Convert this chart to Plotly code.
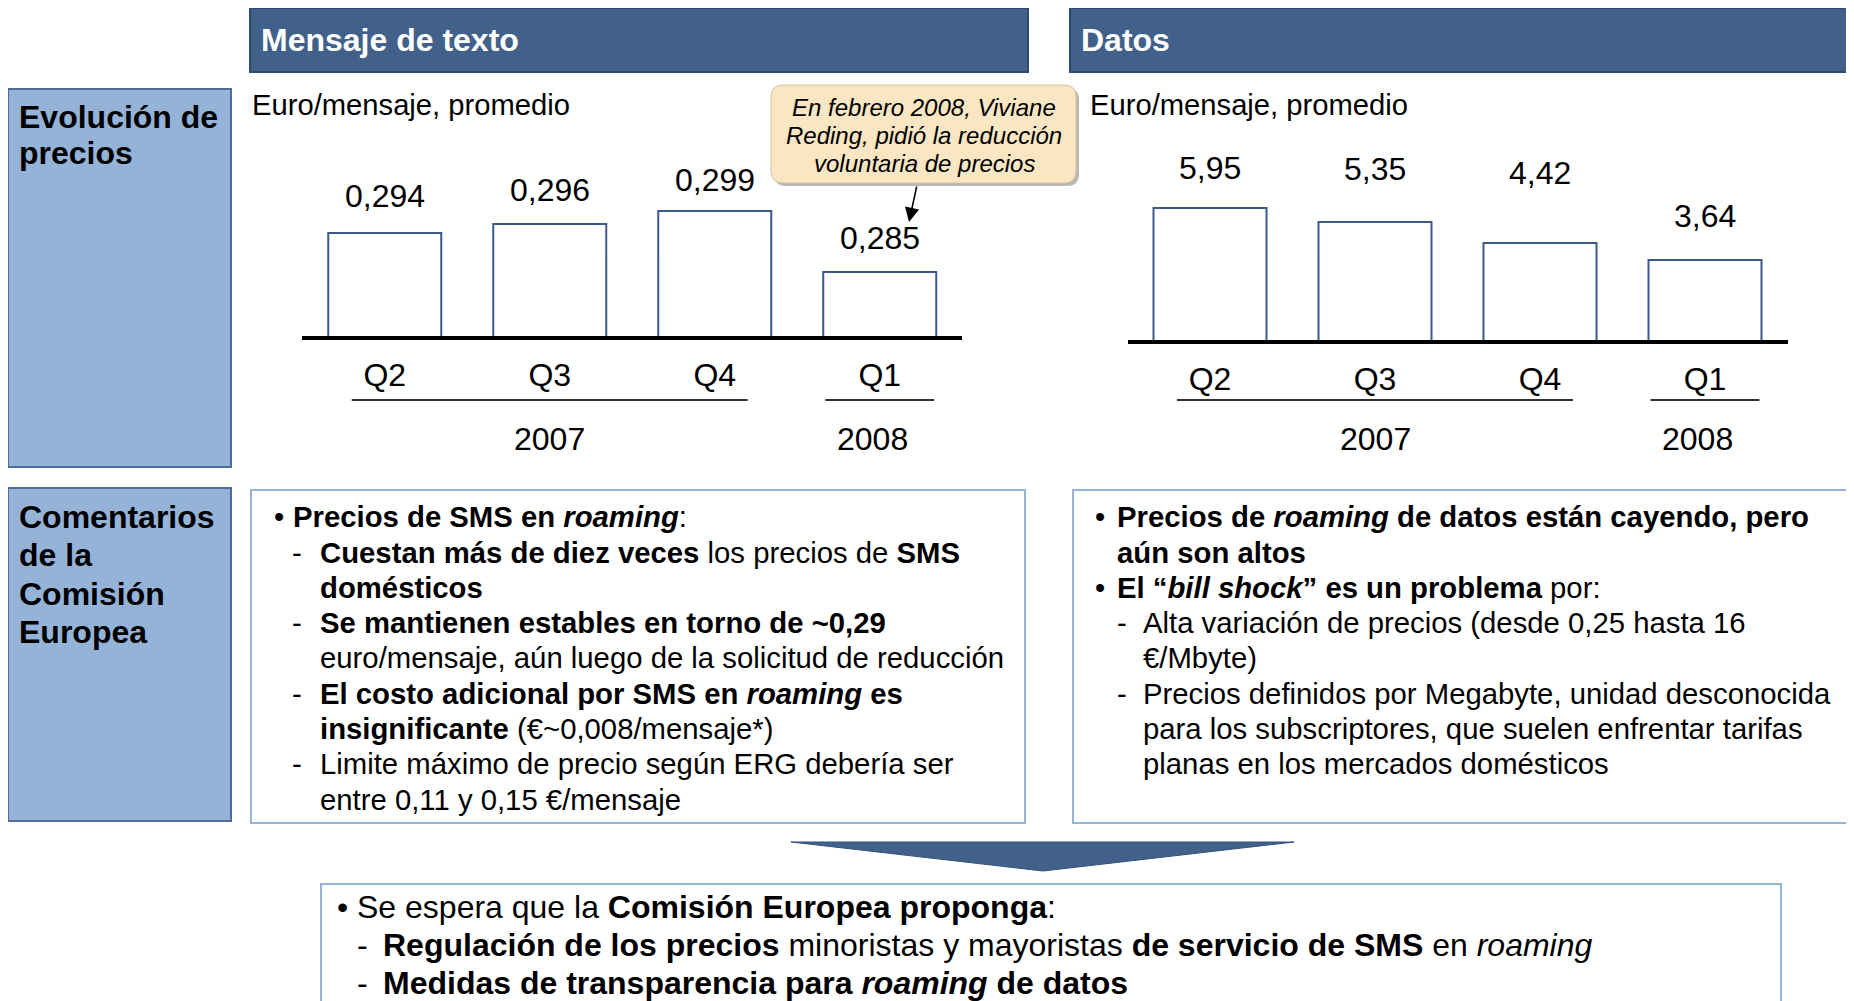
import plotly.graph_objects as go

# Datos del gráfico
trimestres = ["Q2", "Q3", "Q4", "Q1"]
anios = ["2007", "2007", "2007", "2008"]
precio_sms = [0.294, 0.296, 0.299, 0.285]
precio_datos = [5.95, 5.35, 4.42, 3.64]

W, H = 1854, 1001
OFF = 8  # margen del <body> de la página
FUENTE = "Liberation Sans, Arial, sans-serif"
AZUL_OSC = "#41618A"
AZUL_CLARO = "#95B3D7"
AZUL_BORDE = "#4E6E9A"
AZUL_BARRA = "#3B5A89"


def X(x):
    return (x - OFF) / W


def Y(y):
    return 1 - (y - OFF) / H


shapes = []
anns = []


def nota(x, base, texto, size=29.3, anchor="left", color="black"):
    # base = línea base del texto en píxeles
    xx = x - 2 if anchor == "left" else x
    anns.append(dict(
        x=X(xx), y=Y(base - 0.35 * size), xref="paper", yref="paper",
        text=texto, showarrow=False, xanchor=anchor, yanchor="middle",
        font=dict(size=size, color=color, family=FUENTE),
    ))


def caja(x0, y0, x1, y1, fill, line, width=2):
    shapes.append(dict(type="rect", xref="paper", yref="paper",
                       x0=X(x0), y0=Y(y1), x1=X(x1), y1=Y(y0),
                       fillcolor=fill, line=dict(color=line, width=width),
                       layer="below"))


def caja_redonda(x0, y0, x1, y1, r, fill, line, width=1):
    p = (f"M {X(x0 + r)},{Y(y0)} L {X(x1 - r)},{Y(y0)} Q {X(x1)},{Y(y0)} {X(x1)},{Y(y0 + r)} "
         f"L {X(x1)},{Y(y1 - r)} Q {X(x1)},{Y(y1)} {X(x1 - r)},{Y(y1)} "
         f"L {X(x0 + r)},{Y(y1)} Q {X(x0)},{Y(y1)} {X(x0)},{Y(y1 - r)} "
         f"L {X(x0)},{Y(y0 + r)} Q {X(x0)},{Y(y0)} {X(x0 + r)},{Y(y0)} Z")
    shapes.append(dict(type="path", xref="paper", yref="paper", path=p,
                       fillcolor=fill, line=dict(color=line, width=width), layer="above"))


fig = go.Figure()

# Barras: mensajes de texto (eje quebrado)
fig.add_trace(go.Bar(
    x=trimestres, y=precio_sms, width=0.68,
    marker=dict(color="white", line=dict(color=AZUL_BARRA, width=2)),
    xaxis="x", yaxis="y", hoverinfo="skip",
))
# Barras: datos
fig.add_trace(go.Bar(
    x=trimestres, y=precio_datos, width=0.68,
    marker=dict(color="white", line=dict(color=AZUL_BARRA, width=2)),
    xaxis="x2", yaxis="y2", hoverinfo="skip",
))

# Etiquetas de valor (separación sobre la barra, en px)
sep_sms = [25, 23, 19, 23]
sep_datos = [29, 42, 59, 33]
for i, v in enumerate(precio_sms):
    anns.append(dict(x=trimestres[i], y=v, xref="x", yref="y", showarrow=False,
                     text=f"{v:.3f}".replace(".", ","), yanchor="middle",
                     yshift=sep_sms[i] + 0.35 * 32,
                     font=dict(size=32, color="black", family=FUENTE)))
for i, v in enumerate(precio_datos):
    anns.append(dict(x=trimestres[i], y=v, xref="x2", yref="y2", showarrow=False,
                     text=f"{v:.2f}".replace(".", ","), yanchor="middle",
                     yshift=sep_datos[i] + 0.35 * 32,
                     font=dict(size=32, color="black", family=FUENTE)))

# Años y líneas de agrupación bajo los trimestres
for xr in ["x", "x2"]:
    for anio in dict.fromkeys(anios):
        idx = [i for i, a in enumerate(anios) if a == anio]
        ext = 0.2 if len(idx) > 1 else 0.33
        ajuste = 0 if len(idx) > 1 else -0.045
        shapes.append(dict(type="line", xref=xr, yref="paper",
                           x0=idx[0] - ext, x1=idx[-1] + ext, y0=Y(400), y1=Y(400),
                           line=dict(color="#333333", width=2)))
        anns.append(dict(x=sum(idx) / len(idx) + ajuste, y=Y(450 - 0.35 * 32), xref=xr,
                         yref="paper", text=anio, showarrow=False, yanchor="middle",
                         font=dict(size=32, color="black", family=FUENTE)))

# Encabezados
caja(250, 8, 1028, 72, AZUL_OSC, "#2E4A6E", 2)
caja(1070, 8, 1847, 72, AZUL_OSC, "#2E4A6E", 2)
nota(261, 51, "<b>Mensaje de texto</b>", 32, color="white")
nota(1081, 51, "<b>Datos</b>", 32, color="white")

# Rótulos de la izquierda
caja(8, 89, 231, 467, AZUL_CLARO, AZUL_BORDE, 2)
caja(8, 488, 231, 821, AZUL_CLARO, AZUL_BORDE, 2)
nota(19, 128, "<b>Evolución de</b>", 32)
nota(19, 164, "<b>precios</b>", 32)
for k, t in enumerate(["Comentarios", "de la", "Comisión", "Europea"]):
    nota(19, 528 + 38.5 * k, f"<b>{t}</b>", 32)

nota(252, 115, "Euro/mensaje, promedio", 29.2)
nota(1090, 115, "Euro/mensaje, promedio", 29.2)

# Nota de Viviane Reding
caja_redonda(774, 88, 1079, 186, 12, "rgba(0,0,0,0.28)", "rgba(0,0,0,0)", 0)
caja_redonda(771, 85, 1076, 183, 12, "#FBE6C3", "#D8C29C", 1)
for base, t in zip([116, 144, 172], ["En febrero 2008, Viviane", "Reding, pidió la reducción",
                                     "voluntaria de precios"]):
    nota(924, base, f"<i>{t}</i>", 24, anchor="center")
anns.append(dict(x=X(909), y=Y(222), xref="paper", yref="paper", ax=8, ay=-37,
                 axref="pixel", ayref="pixel", showarrow=True, arrowhead=2, arrowsize=1.8,
                 arrowwidth=1.6, arrowcolor="black", text=""))

# Cajas de comentarios
caja(251, 490, 1025, 823, "white", AZUL_CLARO, 2)
caja(1073, 490, 1847, 823, "white", AZUL_CLARO, 2)

com_sms = [
    ("b", "<b>Precios de SMS en <i>roaming</i></b>:"),
    ("d", "<b>Cuestan más de diez veces</b> los precios de <b>SMS</b>"),
    ("c", "<b>domésticos</b>"),
    ("d", "<b>Se mantienen estables en torno de ~0,29</b>"),
    ("c", "euro/mensaje, aún luego de la solicitud de reducción"),
    ("d", "<b>El costo adicional por SMS en <i>roaming</i> es</b>"),
    ("c", "<b>insignificante</b> (€~0,008/mensaje*)"),
    ("d", "Limite máximo de precio según ERG debería ser"),
    ("c", "entre 0,11 y 0,15 €/mensaje"),
]
com_datos = [
    ("b", "<b>Precios de <i>roaming</i> de datos están cayendo, pero</b>"),
    ("bc", "<b>aún son altos</b>"),
    ("b", "<b>El “<i>bill shock</i>” es un problema</b> por:"),
    ("d", "Alta variación de precios (desde 0,25 hasta 16"),
    ("c", "€/Mbyte)"),
    ("d", "Precios definidos por Megabyte, unidad desconocida"),
    ("c", "para los subscriptores, que suelen enfrentar tarifas"),
    ("c", "planas en los mercados domésticos"),
]
conclusion = [
    ("b", "Se espera que la <b>Comisión Europea proponga</b>:"),
    ("d", "<b>Regulación de los precios</b> minoristas y mayoristas <b>de servicio de SMS</b> en <i>roaming</i>"),
    ("d", "<b>Medidas de transparencia para <i>roaming</i> de datos</b>"),
]


def lista(items, x_bul, x_txt, x_dash, x_sub, base0, paso, size):
    for k, (tipo, t) in enumerate(items):
        base = base0 + paso * k
        if tipo == "b":
            nota(x_bul, base, "•", size)
            nota(x_txt, base, t, size)
        elif tipo == "bc":
            nota(x_txt, base, t, size)
        elif tipo == "d":
            nota(x_dash, base, "-", size)
            nota(x_sub, base, t, size)
        else:
            nota(x_sub, base, t, size)


lista(com_sms, 274, 293, 292, 320, 527, 35.3, 29.3)
lista(com_datos, 1095, 1117, 1117, 1143, 527, 35.3, 29.3)

# Flecha y conclusión
shapes.append(dict(type="path", xref="paper", yref="paper",
                   path=f"M {X(791)},{Y(842)} L {X(1294)},{Y(842)} L {X(1043)},{Y(871)} Z",
                   fillcolor=AZUL_OSC, line=dict(color="#33507A", width=1)))
caja(321, 884, 1781, 1040, "white", AZUL_CLARO, 2)
lista(conclusion, 337, 357, 357, 383, 918, 38, 32)

ejes_x = dict(type="category", showline=True, linecolor="black", linewidth=4,
              ticks="", showgrid=False, zeroline=False, ticklabelstandoff=8,
              tickfont=dict(size=32, color="black", family=FUENTE), fixedrange=True)
ejes_y = dict(visible=False, showgrid=False, zeroline=False, fixedrange=True)

fig.update_layout(
    width=W, height=H,
    margin=dict(l=0, r=0, t=0, b=0),
    paper_bgcolor="white", plot_bgcolor="rgba(0,0,0,0)",
    showlegend=False, bargap=0,
    xaxis=dict(ejes_x, domain=[X(302.25), X(962.25)], anchor="y"),
    yaxis=dict(ejes_y, domain=[Y(336), Y(140)], range=[0.2705, 0.2705 + 196 / 4400], anchor="x"),
    xaxis2=dict(ejes_x, domain=[X(1127.5), X(1787.5)], anchor="y2"),
    yaxis2=dict(ejes_y, domain=[Y(340), Y(140)], range=[0.1, 0.1 + 200 / 22.5], anchor="x2"),
    shapes=shapes,
    annotations=anns,
    font=dict(family=FUENTE, color="black"),
)

fig.write_html("out.html")
